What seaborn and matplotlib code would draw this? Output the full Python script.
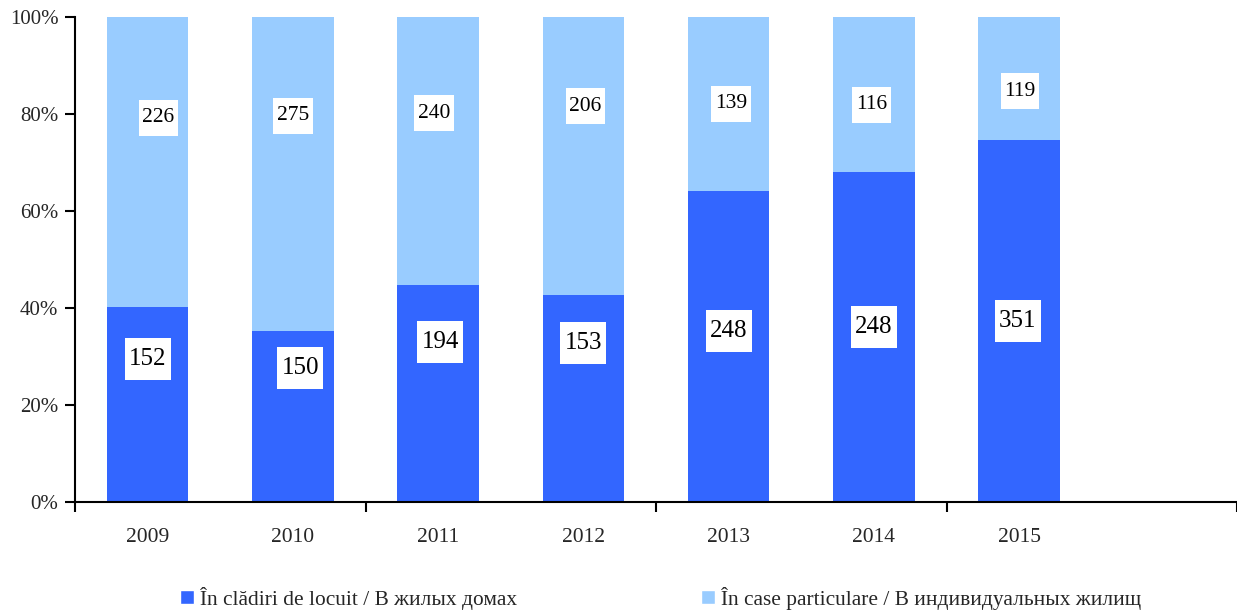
import matplotlib
matplotlib.use('Agg')
import matplotlib.pyplot as plt
from matplotlib.patches import Patch
from matplotlib.path import Path
from matplotlib.ticker import FixedLocator, FixedFormatter, NullFormatter, PercentFormatter
import seaborn as sns
import pandas as pd

# date
years = ['2009', '2010', '2011', '2012', '2013', '2014', '2015']
cladiri = [152, 150, 194, 153, 248, 248, 351]   # In cladiri de locuit
case = [226, 275, 240, 206, 139, 116, 119]      # In case particulare

name_cladiri = 'În clădiri de locuit / В жилых домах'
name_case = 'În case particulare / В индивидуальных жилищ'

# pozitia etichetelor (mutate manual in original), in %
lbl_y_cladiri = [29.5, 27.6, 33.0, 32.8, 35.3, 36.1, 37.3]
lbl_y_case = [79.2, 79.6, 80.2, 81.6, 82.1, 81.9, 84.7]
lbl_dx_cladiri = [0, 0.05, 0.015, 0, 0, 0, -0.01]
lbl_dx_case = [0.075, 0, -0.03, 0.015, 0.015, -0.015, 0.005]

col_dark = '#3366FF'
col_light = '#99CCFF'


def label_box(x0, y0, width, height, mutation_size):
    # cutie alba, mai inalta decat lata (ca in Excel)
    px = 0.17 * mutation_size
    py = 0.40 * mutation_size
    x0, y0 = x0 - px, y0 - py
    x1, y1 = x0 + width + 2 * px, y0 + height + 2 * py
    return Path([(x0, y0), (x1, y0), (x1, y1), (x0, y1), (x0, y0)], closed=True)


df = pd.DataFrame({'An': years, 'cladiri': cladiri, 'case': case})
df['total'] = df['cladiri'] + df['case']
df['pct_cladiri'] = df['cladiri'] / df['total'] * 100
df['pct_total'] = (df['cladiri'] + df['case']) / df['total'] * 100

sns.set_style('ticks')
plt.rcParams['font.family'] = ['Liberation Serif', 'DejaVu Serif']

fig = plt.figure(figsize=(12.37, 6.11), dpi=100)
ax = fig.add_axes([75 / 1237, 1 - 502 / 611, 1 - 75 / 1237, 485 / 611])

sns.barplot(data=df, x='An', y='pct_total', color=col_light, width=0.56,
            saturation=1, errorbar=None, linewidth=0, ax=ax)
sns.barplot(data=df, x='An', y='pct_cladiri', color=col_dark, width=0.56,
            saturation=1, errorbar=None, linewidth=0, ax=ax)

ax.set_xlim(-0.5, 7.5)
ax.set_ylim(0, 100)
ax.set_xlabel('')
ax.set_ylabel('')

ax.yaxis.set_major_locator(FixedLocator([0, 20, 40, 60, 80, 100]))
ax.yaxis.set_major_formatter(PercentFormatter(decimals=0))
ax.xaxis.set_major_locator(FixedLocator([-0.5, 1.5, 3.5, 5.5, 7.5]))
ax.xaxis.set_major_formatter(NullFormatter())
ax.xaxis.set_minor_locator(FixedLocator(range(len(years))))
ax.xaxis.set_minor_formatter(FixedFormatter(years))

ax.tick_params(axis='x', which='major', length=7, width=1.5, color='black')
ax.tick_params(axis='x', which='minor', length=0, pad=19, labelsize=15.5)
ax.tick_params(axis='y', length=7, width=1.5, color='black', pad=5, labelsize=15)

sns.despine(ax=ax)
for s in ['left', 'bottom']:
    ax.spines[s].set_linewidth(1.5)
    ax.spines[s].set_color('black')

# etichete
for i in range(len(years)):
    ax.text(i + lbl_dx_cladiri[i], lbl_y_cladiri[i], str(cladiri[i]),
            ha='center', va='center', fontsize=18, color='black',
            bbox=dict(boxstyle=label_box, fc='white', ec='none'))
    ax.text(i + lbl_dx_case[i], lbl_y_case[i], str(case[i]),
            ha='center', va='center', fontsize=15.5, color='black',
            bbox=dict(boxstyle=label_box, fc='white', ec='none'))

handles = [Patch(facecolor=col_dark, label=name_cladiri),
           Patch(facecolor=col_light, label=name_case)]
fig.legend(handles=handles, loc='center', bbox_to_anchor=(0.534, 0.021), ncol=2,
           frameon=False, fontsize=15.4, handlelength=0.65, handleheight=0.65,
           handletextpad=0.3, columnspacing=8.6, borderpad=0, borderaxespad=0)

fig.savefig('out.png', dpi=100)
